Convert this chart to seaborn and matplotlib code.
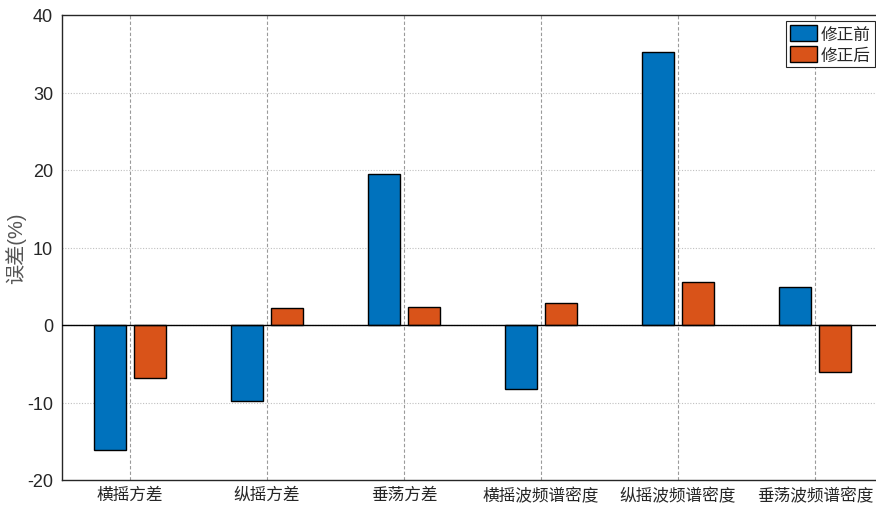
import numpy as np
import pandas as pd
import matplotlib
matplotlib.use("Agg")
import matplotlib.pyplot as plt
import seaborn as sns

categories = ["横摇方差", "纵摇方差", "垂荡方差", "横摇波频谱密度", "纵摇波频谱密度", "垂荡波频谱密度"]
before = [-16.1, -9.8, 19.5, -8.3, 35.2, 4.9]
after = [-6.8, 2.2, 2.3, 2.8, 5.6, -6.0]
series = ["修正前", "修正后"]
yticks = [-20, -10, 0, 10, 20, 30, 40]

sns.set_style("white")
plt.rcParams["font.family"] = ["Liberation Sans", "Noto Sans CJK SC", "DejaVu Sans"]
plt.rcParams["axes.unicode_minus"] = False

df = pd.DataFrame({
    "类别": categories * 2,
    "误差": before + after,
    "状态": [series[0]] * len(categories) + [series[1]] * len(categories),
})

fig = plt.figure(figsize=(8.76, 5.06), dpi=100)
W, H = 876, 506
ax = fig.add_axes([61.5 / W, (H - 481) / H, 822 / W, (481 - 16) / H])

sns.barplot(data=df, x="类别", y="误差", hue="状态", hue_order=series,
            order=categories, palette=["#0072BD", "#D95319"],
            width=0.57, gap=0.18, edgecolor="black", linewidth=1.0,
            saturation=1, errorbar=None, ax=ax, zorder=3)

ax.set_xlim(-0.5, len(categories) - 0.5)
ax.set_ylim(-20, 40)
ax.set_yticks(yticks)
ax.set_yticklabels([str(t) for t in yticks])

# grid: dotted horizontal, dashed vertical
for t in yticks[1:-1]:
    ax.axhline(t, color="#c0c0c0", lw=0.8, ls=(0, (1, 1.5)), zorder=0)
for i in range(len(categories)):
    ax.axvline(i, color="#9a9a9a", lw=0.8, ls=(0, (3, 2)), zorder=0)
ax.axhline(0, color="black", lw=1.0, zorder=4)

for side in ["left", "bottom", "top", "right"]:
    ax.spines[side].set_color("#262626")
    ax.spines[side].set_linewidth(1.0)

ax.tick_params(axis="both", direction="in", length=5, width=0.8,
               colors="#262626", labelsize=13, pad=6)
ax.tick_params(axis="x", labelsize=12, pad=5)
ax.set_xlabel("")
ax.set_ylabel("误差(%)", fontsize=14.5, color="#555555")
ax.yaxis.set_label_coords(-0.043, 0.5)

leg = ax.legend(loc="upper right", bbox_to_anchor=(875 / W, 1 - 22 / H),
                bbox_transform=fig.transFigure, fontsize=12,
                frameon=True, fancybox=False, handlelength=1.6,
                handleheight=1.1, handletextpad=0.25, borderpad=0.25,
                labelspacing=0.25, borderaxespad=0)
leg.get_frame().set_edgecolor("#262626")
leg.get_frame().set_linewidth(0.8)
leg.get_frame().set_alpha(1)
leg.set_title(None)

fig.savefig("out.png", dpi=100)
